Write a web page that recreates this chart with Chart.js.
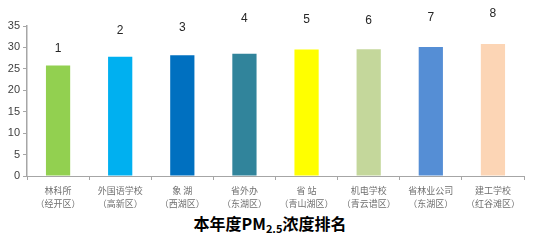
<!DOCTYPE html>
<html>
<head>
<meta charset="utf-8">
<script src="https://cdn.jsdelivr.net/npm/chart.js@4"></script>
<style>
  html, body { margin: 0; padding: 0; background: #fff; }
  #wrap { position: relative; width: 533px; height: 248px; }
  #chart { position: absolute; left: 0; top: 0; }
  #title {
    position: absolute; left: 0; top: 213px; width: 540px; text-align: center;
    font-family: "Noto Sans CJK SC", sans-serif; font-weight: bold; font-size: 16px; color: #000;
    line-height: 20px;
  }
  #title sub { font-size: 11px; vertical-align: -3px; line-height: 0; }
</style>
</head>
<body>
<div id="wrap">
  <canvas id="chart" width="533" height="210"></canvas>
  <div id="title">本年度PM<sub>2.5</sub>浓度排名</div>
</div>
<script>
const siteNames = ['林科所', '外国语学校', '象 湖', '省外办', '省 站', '机电学校', '省林业公司', '建工学校'];
const districts = ['（经开区）', '（高新区）', '（西湖区）', '（东湖区）', '（青山湖区）', '（青云谱区）', '（东湖区）', '（红谷滩区）'];
const pm25 = [25.8, 27.8, 28.2, 28.5, 29.5, 29.6, 30.1, 30.8];
const barColors = ['#92d050', '#00b0f0', '#0070c0', '#31849b', '#ffff00', '#c4d79b', '#558ed5', '#fcd5b5'];
const ranks = ['1', '2', '3', '4', '5', '6', '7', '8'];
const rankLevel = [29.6, 33.8, 34.5, 36.6, 36.4, 36.2, 36.9, 37.8];
const yTicks = [0, 5, 10, 15, 20, 25, 30, 35];

const rankLabels = {
    id: 'rankLabels',
    afterDatasetsDraw(chart) {
        const ctx = chart.ctx;
        const meta = chart.getDatasetMeta(0);
        const y = chart.scales.y;
        ctx.save();
        ctx.font = '12px "Liberation Sans", sans-serif';
        ctx.textAlign = 'center';
        ctx.textBaseline = 'middle';
        ctx.fillStyle = '#262626';
        meta.data.forEach((bar, i) => {
            ctx.fillText(ranks[i], bar.x, y.getPixelForValue(rankLevel[i]));
        });
        ctx.restore();
    }
};

new Chart(document.getElementById('chart'), {
    type: 'bar',
    data: {
        labels: siteNames.map((n, i) => [n, districts[i]]),
        datasets: [{
            data: pm25,
            backgroundColor: barColors,
            borderWidth: 0,
            barPercentage: 0.39,
            categoryPercentage: 1
        }]
    },
    options: {
        responsive: false,
        animation: false,
        layout: { padding: { left: 0, right: 9, top: 26, bottom: 0 } },
        plugins: { legend: { display: false }, tooltip: { enabled: false } },
        scales: {
            x: {
                grid: { display: true, drawOnChartArea: false, tickLength: 4, color: '#a6a6a6', offset: true },
                border: { color: '#a6a6a6' },
                ticks: {
                    color: '#6f6f6f', maxRotation: 0, autoSkip: false, padding: 5,
                    font: { family: '"Noto Sans CJK SC", sans-serif', size: 9, lineHeight: 1.35 }
                },
                afterFit(scale) { scale.height = 34; }
            },
            y: {
                min: 0, max: 35,
                afterBuildTicks(scale) { scale.ticks = yTicks.map(v => ({ value: v })); },
                grid: { display: true, drawOnChartArea: false, tickLength: 4, color: '#a6a6a6' },
                border: { color: '#a6a6a6', width: 1.5 },
                ticks: {
                    color: '#404040', padding: 3,
                    font: { family: '"Liberation Sans", sans-serif', size: 11 }
                },
                afterFit(scale) { scale.width = 27; }
            }
        }
    },
    plugins: [rankLabels]
});
</script>
</body>
</html>
